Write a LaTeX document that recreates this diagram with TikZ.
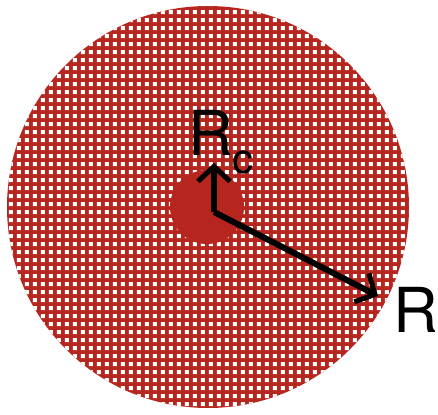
\documentclass[tikz,border=0pt]{standalone}
\usepackage{fontspec}
\setmainfont{TeX Gyre Heros}
\usetikzlibrary{patterns.meta,arrows.meta}
\definecolor{brick}{RGB}{183,38,30}
\tikzdeclarepattern{name=wdots, type=uncolored, bounding box={(0,0) and (8pt,8pt)}, tile size={(8pt,8pt)}, code={\fill (1pt,1pt) rectangle (5.4pt,5.4pt);}}
\tikzset{vec/.style={line width=6pt, -{Straight Barb[length=15pt,width=32pt,line width=5pt]}},
lab/.style={font=\fontsize{62}{62}\selectfont, inner sep=0pt}}
\begin{document}
\begin{tikzpicture}[x=1pt,y=-1pt]
\useasboundingbox (0,0) rectangle (438,414);
\fill[brick] (208,207) circle (201);
\fill[pattern=wdots, pattern color=white] (208,207) circle (201);
\fill[brick] (207,207) circle (37);
\coordinate (o) at (214,212);
\coordinate (rc) at (214,163);
\coordinate (r) at (378,296);
\draw[vec] (o) -- (rc);
\draw[vec] (o) -- (r);
\node[lab, anchor=base west] (lrc) at (188,155) {R\raisebox{-0.3em}{\fontsize{42}{42}\selectfont c}};
\node[lab, anchor=base west] (lr) at (393,332) {R};
\end{tikzpicture}
\end{document}
